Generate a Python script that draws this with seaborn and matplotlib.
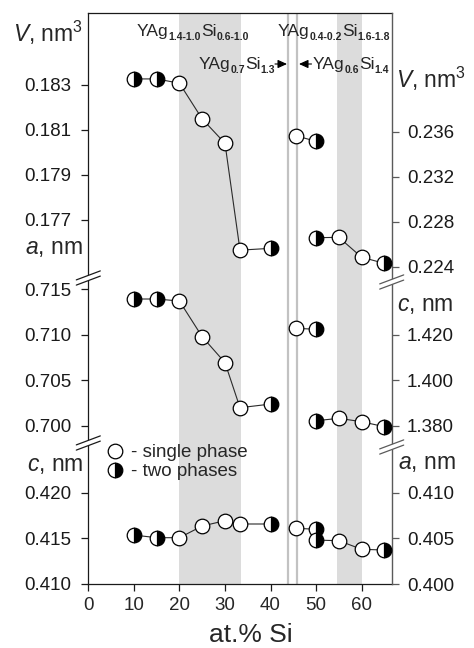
import matplotlib
matplotlib.use("Agg")
import matplotlib.pyplot as plt
import seaborn as sns
import pandas as pd
from matplotlib.lines import Line2D
from matplotlib.patches import Polygon
from matplotlib.ticker import FixedLocator, FormatStrFormatter

# ---------------- data ----------------
# YAg(2-x)Si(x) side (left axes)
si_left = [10, 15, 20, 25, 30, 33.3, 40]
phase_left = ["two", "two", "single", "single", "single", "single", "two"]
V_left = [0.18327, 0.18327, 0.18308, 0.18149, 0.18041, 0.17566, 0.17574]
a_left = [0.71393, 0.71393, 0.71371, 0.70978, 0.70694, 0.70198, 0.70238]
c_left = [0.41536, 0.41507, 0.41507, 0.41635, 0.41693, 0.41657, 0.41657]

# YAg0.6Si1.4 (right axes)
si_mid = [45.7, 50]
phase_mid = ["single", "two"]
V_mid = [0.23562, 0.23515]
c_mid = [1.42294, 1.42251]
a_mid = [0.40610, 0.40599]

# YAg0.4-0.2Si1.6-1.8 (right axes)
si_right = [50, 55, 60, 65]
phase_right = ["two", "single", "single", "two"]
V_right = [0.22658, 0.22661, 0.22484, 0.22430]
c_right = [1.38220, 1.38325, 1.38176, 1.37956]
a_right = [0.40481, 0.40474, 0.40380, 0.40372]

x_ticks = [0, 10, 20, 30, 40, 50, 60]
V_left_ticks = [0.177, 0.179, 0.181, 0.183]
a_left_ticks = [0.700, 0.705, 0.710, 0.715]
c_left_ticks = [0.410, 0.415, 0.420]
V_right_ticks = [0.224, 0.228, 0.232, 0.236]
c_right_ticks = [1.380, 1.400, 1.420]
a_right_ticks = [0.400, 0.405, 0.410]

single_region = [(20, 33.5), (54.6, 60)]
two_lines = [43.8, 45.8]

# ---------------- style ----------------
sns.set_style("white")
plt.rcParams["font.family"] = ["Liberation Sans", "DejaVu Sans"]
plt.rcParams["mathtext.fontset"] = "custom"
plt.rcParams["mathtext.rm"] = "Liberation Sans"
plt.rcParams["mathtext.it"] = "Liberation Sans:italic"
plt.rcParams["mathtext.bf"] = "Liberation Sans:bold"

W, H = 474, 648
fig = plt.figure(figsize=(W / 100, H / 100), dpi=100)
fig.patch.set_facecolor("white")

def fx(px):
    return px / W

def fy(py):
    return 1 - py / H

XL, XR = 88.3, 391.7
Y0, Y1, Y2, Y3 = 13, 280, 445, 584

def make_axes(ytop, ybot):
    ax = fig.add_axes([fx(XL), fy(ybot), fx(XR) - fx(XL), (ybot - ytop) / H])
    axr = ax.twinx()
    return ax, axr

ax_t, axr_t = make_axes(Y0, Y1)
ax_m, axr_m = make_axes(Y1, Y2)
ax_b, axr_b = make_axes(Y2, Y3)

LEFT_C = "#1a1a1a"
RIGHT_C = "#5a5a5a"

marker_styles = {
    "single": dict(markerfacecolor="white", fillstyle="full"),
    "two": dict(markerfacecolor="black", markerfacecoloralt="white", fillstyle="right"),
}

def draw(ax, x, y, phases):
    df = pd.DataFrame({"x": x, "y": y, "phase": phases})
    sns.lineplot(data=df, x="x", y="y", ax=ax, color="#2a2a2a", lw=0.8,
                 sort=False, estimator=None, zorder=3)
    for ph, st in marker_styles.items():
        sub = df[df["phase"] == ph]
        if len(sub):
            sns.lineplot(data=sub, x="x", y="y", ax=ax, color="black",
                         linestyle="", marker="o", markersize=10.5,
                         markeredgecolor="black", markeredgewidth=0.9,
                         sort=False, estimator=None, zorder=4, **st)
    ax.set_xlabel("")
    ax.set_ylabel("")

for ax in (ax_t, ax_m, ax_b):
    for lo, hi in single_region:
        ax.axvspan(lo, hi, color="#dcdcdc", lw=0, zorder=0)
    for xv in two_lines:
        ax.axvline(xv, color="#c2c2c2", lw=1.6, zorder=1)

draw(ax_t, si_left, V_left, phase_left)
draw(ax_m, si_left, a_left, phase_left)
draw(ax_b, si_left, c_left, phase_left)
draw(axr_t, si_mid, V_mid, phase_mid)
draw(axr_t, si_right, V_right, phase_right)
draw(axr_m, si_mid, c_mid, phase_mid)
draw(axr_m, si_right, c_right, phase_right)
draw(axr_b, si_mid, a_mid, phase_mid)
draw(axr_b, si_right, a_right, phase_right)

ax_t.set_ylim(0.174333, 0.1862)
axr_t.set_ylim(0.22282, 0.24655)
ax_m.set_ylim(0.69788, 0.71602)
axr_m.set_ylim(1.37149, 1.44425)
ax_b.set_ylim(0.410, 0.42522)
axr_b.set_ylim(0.400, 0.41522)

for ax, ticks in ((ax_t, V_left_ticks), (ax_m, a_left_ticks), (ax_b, c_left_ticks),
                  (axr_t, V_right_ticks), (axr_m, c_right_ticks), (axr_b, a_right_ticks)):
    ax.yaxis.set_major_locator(FixedLocator(ticks))
    ax.yaxis.set_major_formatter(FormatStrFormatter("%.3f"))

for ax in (ax_t, ax_m, ax_b, axr_t, axr_m, axr_b):
    ax.set_xlim(0, 66.6)
    ax.set_facecolor("none")
    for s in ax.spines.values():
        s.set_visible(False)

for ax in (ax_t, ax_m, ax_b):
    ax.spines["left"].set_visible(True)
    ax.spines["left"].set_color(LEFT_C)
    ax.spines["left"].set_linewidth(0.9)
    ax.tick_params(axis="y", which="major", left=True, right=False, direction="out",
                   length=5, width=0.9, color=LEFT_C, labelsize=13.5, pad=7,
                   labelcolor="#1a1a1a")
    ax.tick_params(axis="x", bottom=False, labelbottom=False, top=False)

for ax in (axr_t, axr_m, axr_b):
    ax.spines["right"].set_visible(True)
    ax.spines["right"].set_color(RIGHT_C)
    ax.spines["right"].set_linewidth(1.0)
    ax.tick_params(axis="y", which="major", right=True, left=False, direction="out",
                   length=5, width=0.9, color=RIGHT_C, labelsize=13.5, pad=6,
                   labelcolor="#1a1a1a")
    ax.tick_params(axis="x", bottom=False, labelbottom=False, top=False)

ax_t.spines["top"].set_visible(True)
ax_t.spines["top"].set_color(LEFT_C)
ax_t.spines["top"].set_linewidth(0.9)
ax_b.spines["bottom"].set_visible(True)
ax_b.spines["bottom"].set_color(LEFT_C)
ax_b.spines["bottom"].set_linewidth(0.9)
ax_b.xaxis.set_major_locator(FixedLocator(x_ticks))
ax_b.tick_params(axis="x", bottom=True, labelbottom=True, direction="out",
                 length=5, width=0.9, color=LEFT_C, labelsize=13.5, pad=4)

# ---------------- axis break marks ----------------
def break_mark(xc, yc, color):
    d, hw, rise = 2.6, 12, 4.5
    poly = Polygon([(fx(xc - hw), fy(yc - d + rise)), (fx(xc + hw), fy(yc - d - rise)),
                    (fx(xc + hw), fy(yc + d - rise)), (fx(xc - hw), fy(yc + d + rise))],
                   closed=True, facecolor="white", edgecolor="none",
                   transform=fig.transFigure, zorder=10)
    fig.add_artist(poly)
    for off in (-d, d):
        fig.add_artist(Line2D([fx(xc - hw), fx(xc + hw)],
                              [fy(yc + off + rise), fy(yc + off - rise)],
                              color=color, lw=0.9, transform=fig.transFigure, zorder=11))

break_mark(XL, 278, LEFT_C)
break_mark(XL, 443, LEFT_C)
break_mark(XR, 282, RIGHT_C)
break_mark(XR, 447, RIGHT_C)

# ---------------- axis titles ----------------
lab_fs = 16.5
fig.text(fx(83), fy(33), r"$V$, nm$^3$", ha="right", va="center", fontsize=lab_fs)
fig.text(fx(83), fy(248), r"$a$, nm", ha="right", va="center", fontsize=lab_fs)
fig.text(fx(83), fy(465), r"$c$, nm", ha="right", va="center", fontsize=lab_fs)
fig.text(fx(396), fy(79), r"$V$, nm$^3$", ha="left", va="center", fontsize=lab_fs)
fig.text(fx(397), fy(305), r"$c$, nm", ha="left", va="center", fontsize=lab_fs)
fig.text(fx(398), fy(462), r"$a$, nm", ha="left", va="center", fontsize=lab_fs)
fig.text(fx(251), fy(635), "at.% Si", ha="center", va="center", fontsize=19)

# ---------------- phase labels (manual sub-scripts) ----------------
renderer = fig.canvas.get_renderer()
MAIN_FS, SUB_FS, SUB_DROP = 12.5, 7.5, 4.0

def formula(x_px, base_px, ag, si, ha):
    pieces = [("YAg", MAIN_FS, "normal", 0), (ag, SUB_FS, "bold", SUB_DROP),
              ("Si", MAIN_FS, "normal", 0), (si, SUB_FS, "bold", SUB_DROP)]
    texts, widths = [], []
    for s, fs, wt, dy in pieces:
        t = fig.text(0, 0, s, fontsize=fs, fontweight=wt, va="baseline", ha="left")
        widths.append(t.get_window_extent(renderer).width)
        texts.append((t, dy))
    total = sum(widths)
    if ha == "center":
        x0 = x_px - total / 2
    elif ha == "right":
        x0 = x_px - total
    else:
        x0 = x_px
    cur = x0
    for (t, dy), w in zip(texts, widths):
        t.set_position((fx(cur), fy(base_px + dy)))
        cur += w

formula(193, 36, "1.4-1.0", "0.6-1.0", "center")
formula(334, 36, "0.4-0.2", "1.6-1.8", "center")
formula(275, 69, "0.7", "1.3", "right")
formula(313, 69, "0.6", "1.4", "left")

arrow_kw = dict(arrowstyle="-|>,head_length=0.55,head_width=0.25", color="black", lw=0.8,
                shrinkA=0, shrinkB=0)
ax_t.annotate("", xy=(fx(287), fy(64)), xytext=(fx(275), fy(64)),
              xycoords="figure fraction", textcoords="figure fraction", arrowprops=arrow_kw)
ax_t.annotate("", xy=(fx(299), fy(64)), xytext=(fx(311.5), fy(64)),
              xycoords="figure fraction", textcoords="figure fraction", arrowprops=arrow_kw)

# ---------------- legend ----------------
handles = [
    Line2D([], [], linestyle="", marker="o", markersize=10.5, markeredgecolor="black",
           markeredgewidth=0.9, **marker_styles["single"]),
    Line2D([], [], linestyle="", marker="o", markersize=10.5, markeredgecolor="black",
           markeredgewidth=0.9, **marker_styles["two"]),
]
leg = axr_b.legend(handles, ["- single phase", "- two phases"], loc="upper left",
                   bbox_to_anchor=(fx(106), fy(444)), bbox_transform=fig.transFigure,
                   frameon=False, fontsize=13.5, handlelength=1.0, handletextpad=0.35,
                   labelspacing=0.12, borderpad=0, borderaxespad=0)

fig.savefig("out.png", dpi=100, facecolor="white")
